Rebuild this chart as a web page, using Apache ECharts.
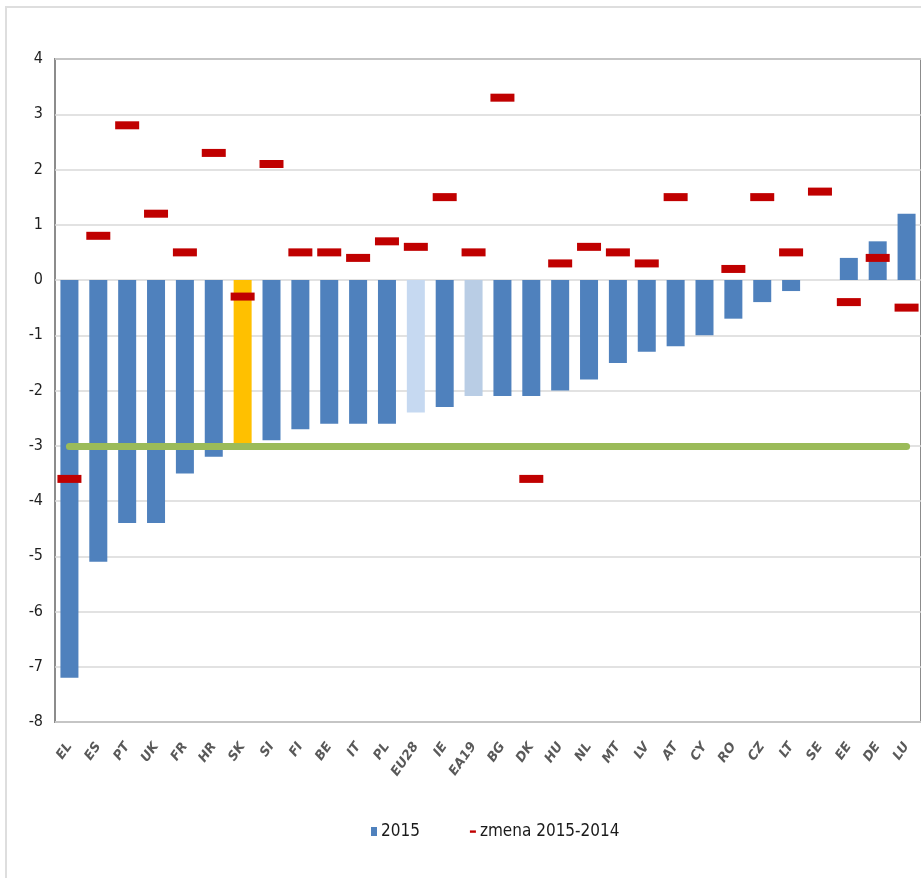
<!DOCTYPE html>
<html>
<head>
<meta charset="utf-8">
<style>
  html, body { margin: 0; padding: 0; background: #fff; }
  #chart { width: 921px; height: 878px; }
</style>
<script src="https://cdn.jsdelivr.net/npm/echarts@6/dist/echarts.min.js"></script>
</head>
<body>
<div id="chart"></div>
<script>
const countries = ['EL', 'ES', 'PT', 'UK', 'FR', 'HR', 'SK', 'SI', 'FI', 'BE',
  'IT', 'PL', 'EU28', 'IE', 'EA19', 'BG', 'DK', 'HU', 'NL', 'MT',
  'LV', 'AT', 'CY', 'RO', 'CZ', 'LT', 'SE', 'EE', 'DE', 'LU']

// saldo 2015, % HDP
const balance2015 = [-7.2, -5.1, -4.4, -4.4, -3.5, -3.2, -3.0, -2.9, -2.7, -2.6,
  -2.6, -2.6, -2.4, -2.3, -2.1, -2.1, -2.1, -2.0, -1.8, -1.5,
  -1.3, -1.2, -1.0, -0.7, -0.4, -0.2, 0.0, 0.4, 0.7, 1.2]

// zmena 2015-2014 (CY mimo rozsah grafu)
const change = [-3.6, 0.8, 2.8, 1.2, 0.5, 2.3, -0.3, 2.1, 0.5, 0.5,
  0.4, 0.7, 0.6, 1.5, 0.5, 3.3, -3.6, 0.3, 0.6, 0.5,
  0.3, 1.5, null, 0.2, 1.5, 0.5, 1.6, -0.4, 0.4, -0.5]

const threshold = -3
const yTicks = { min: -8, max: 4, step: 1 }

const BAR_BLUE = '#4F81BD'
const specialColors = { SK: '#FFC000', EU28: '#C6D9F1', EA19: '#B9CDE5' }

const chart = echarts.init(document.getElementById('chart'), null, { renderer: 'canvas' })

chart.setOption({
  animation: false,
  backgroundColor: '#fff',
  graphic: [{
    type: 'rect',
    shape: { x: 6, y: 7, width: 1000, height: 1000 },
    style: { fill: 'none', stroke: '#DEDEDE', lineWidth: 2 },
    silent: true,
    z: -1
  }],
  grid: {
    left: 55,
    right: -4,
    top: 59,
    bottom: 156,
    show: true,
    borderColor: '#8C8C8C',
    borderWidth: 2
  },
  legend: {
    left: 366,
    top: 818,
    itemGap: 50,
    itemWidth: 6,
    itemHeight: 9,
    textStyle: {
      fontFamily: 'DejaVu Sans Condensed',
      fontSize: 17,
      color: '#1a1a1a',
      padding: [0, 0, 0, -1]
    },
    data: [
      { name: '2015', icon: 'rect' },
      { name: 'zmena 2015-2014', icon: 'path://M0,0M6,9M0,3.4h6v2.4h-6z' }
    ]
  },
  xAxis: {
    type: 'category',
    data: countries,
    axisLine: { show: false },
    axisTick: { show: false },
    axisLabel: {
      interval: 0,
      rotate: 55,
      margin: 22,
      color: '#595959',
      fontFamily: 'DejaVu Sans',
      fontStyle: 'italic',
      fontWeight: 'bold',
      fontSize: 13
    },
    splitLine: { show: false }
  },
  yAxis: {
    type: 'value',
    min: yTicks.min,
    max: yTicks.max,
    interval: yTicks.step,
    axisLine: { show: false },
    axisTick: { show: false },
    axisLabel: {
      margin: 12,
      color: '#1f1f1f',
      fontFamily: 'DejaVu Sans Condensed',
      fontSize: 16
    },
    splitLine: { lineStyle: { color: '#D9D9D9', width: 1.5 } }
  },
  series: [
    {
      name: '2015',
      type: 'bar',
      barWidth: 18,
      itemStyle: { color: BAR_BLUE },
      data: balance2015.map((v, i) => {
        const c = specialColors[countries[i]]
        return c ? { value: v, itemStyle: { color: c } } : v
      }),
      markLine: {
        silent: true,
        symbol: ['none', 'none'],
        label: { show: false },
        lineStyle: { color: '#9BBB59', width: 7, type: 'solid', cap: 'round', opacity: 1 },
        data: [[
          { coord: [countries[0], threshold] },
          { coord: [countries[countries.length - 1], threshold] }
        ]]
      },
      z: 2
    },
    {
      name: 'zmena 2015-2014',
      type: 'scatter',
      symbol: 'rect',
      symbolSize: [24, 8],
      itemStyle: { color: '#C00000', opacity: 1 },
      data: change,
      z: 5
    }
  ]
})
</script>
</body>
</html>
